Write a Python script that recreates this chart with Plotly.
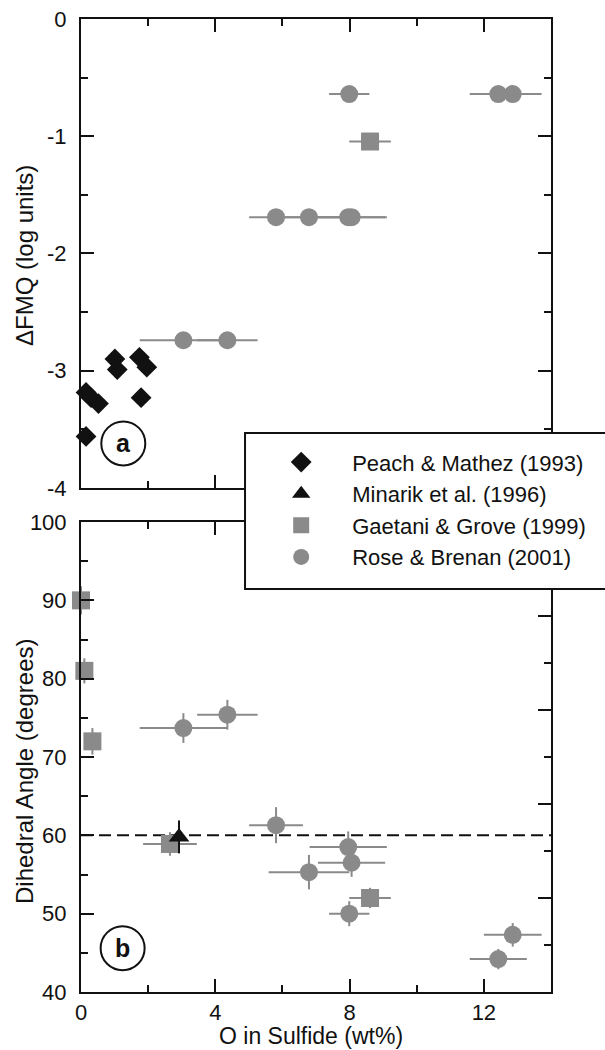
import plotly.graph_objects as go

# ---- Rose & Brenan (2001): samples with both fO2 and dihedral angle ----
rb_o = [3.05, 4.36, 5.81, 7.96, 8.06, 6.79, 7.99, 12.86, 12.43]
rb_o_err = [1.3, 0.9, 0.8, 1.15, 1.0, 1.2, 0.6, 0.86, 0.85]
rb_fmq = [-2.74, -2.74, -1.69, -1.69, -1.69, -1.69, -0.64, -0.64, -0.64]
rb_angle = [73.7, 75.4, 61.3, 58.5, 56.5, 55.3, 50.0, 47.3, 44.2]
rb_angle_err = [1.9, 1.9, 2.3, 2.0, 1.8, 2.2, 1.6, 1.5, 1.3]

# ---- Gaetani & Grove (1999) ----
gg_o = [0.0, 0.1, 0.34, 2.65, 8.61]
gg_o_err = [0.0, 0.0, 0.0, 0.8, 0.62]
gg_fmq = [None, None, None, None, -1.045]
gg_angle = [90.0, 81.0, 72.0, 58.9, 52.0]
gg_angle_err = [1.8, 1.6, 1.7, 1.5, 1.3]

# ---- Peach & Mathez (1993): fO2 only ----
pm_o = [1.01, 1.08, 1.74, 1.96, 0.15, 0.30, 0.52, 1.79, 0.15]
pm_fmq = [-2.90, -2.99, -2.886, -2.97, -3.185, -3.23, -3.28, -3.23, -3.56]

# ---- Minarik et al. (1996): dihedral angle only ----
mi_o = [2.92]
mi_angle = [59.8]
mi_angle_err = [2.1]

# axis ticks
fmq_ticks = [0, -1, -2, -3, -4]
fmq_labels = ["0", "-1", "-2", "-3", "-4"]
angle_ticks = [40, 50, 60, 70, 80, 90, 100]
o_ticks = [0, 4, 8, 12]

GRAY = "#8a8a8a"
BLACK = "#111111"
FONT = "Liberation Sans, Arial, Helvetica, sans-serif"

fig = go.Figure()

# ---------- panel a: ΔFMQ ----------
gg_top = [(o, e, f) for o, e, f in zip(gg_o, gg_o_err, gg_fmq) if f is not None]

fig.add_trace(go.Scatter(
    x=rb_o, y=rb_fmq, mode="markers", xaxis="x", yaxis="y",
    error_x=dict(type="data", array=rb_o_err, color=GRAY, thickness=2, width=0),
    marker=dict(symbol="circle", size=18, color=GRAY),
    name="Rose & Brenan (2001)", legendgroup="rb", legendrank=4,
    showlegend=True, cliponaxis=False))

fig.add_trace(go.Scatter(
    x=[g[0] for g in gg_top], y=[g[2] for g in gg_top], mode="markers",
    xaxis="x", yaxis="y",
    error_x=dict(type="data", array=[g[1] for g in gg_top], color=GRAY,
                 thickness=2, width=0),
    marker=dict(symbol="square", size=18, color=GRAY),
    name="Gaetani & Grove (1999)", legendgroup="gg", legendrank=3,
    showlegend=True, cliponaxis=False))

fig.add_trace(go.Scatter(
    x=pm_o, y=pm_fmq, mode="markers", xaxis="x", yaxis="y",
    marker=dict(symbol="diamond", size=16, color=BLACK),
    name="Peach & Mathez (1993)", legendgroup="pm", legendrank=1,
    showlegend=True, cliponaxis=False))

# ---------- panel b: dihedral angle ----------
fig.add_trace(go.Scatter(
    x=rb_o, y=rb_angle, mode="markers", xaxis="x2", yaxis="y2",
    error_x=dict(type="data", array=rb_o_err, color=GRAY, thickness=2, width=0),
    error_y=dict(type="data", array=rb_angle_err, color=GRAY, thickness=2, width=0),
    marker=dict(symbol="circle", size=18, color=GRAY),
    name="Rose & Brenan (2001)", legendgroup="rb", showlegend=False,
    cliponaxis=False))

fig.add_trace(go.Scatter(
    x=gg_o, y=gg_angle, mode="markers", xaxis="x2", yaxis="y2",
    error_x=dict(type="data", array=gg_o_err, color=GRAY, thickness=2, width=0),
    error_y=dict(type="data", array=gg_angle_err, color=GRAY, thickness=2, width=0),
    marker=dict(symbol="square", size=18, color=GRAY),
    name="Gaetani & Grove (1999)", legendgroup="gg", showlegend=False,
    cliponaxis=False))

fig.add_trace(go.Scatter(
    x=mi_o, y=mi_angle, mode="markers", xaxis="x2", yaxis="y2",
    error_y=dict(type="data", array=mi_angle_err, color=BLACK, thickness=2, width=0),
    marker=dict(symbol="triangle-up", size=18, color=BLACK),
    name="Minarik et al. (1996)", legendgroup="mi", legendrank=2,
    showlegend=True, cliponaxis=False))

axis_common = dict(
    showline=True, linecolor=BLACK, linewidth=2, ticks="inside",
    tickcolor=BLACK, tickwidth=2, showgrid=False, zeroline=False,
    automargin=False,
    tickfont=dict(family=FONT, size=22, color=BLACK),
)

fig.update_layout(
    width=605, height=1050,
    margin=dict(l=81, r=54, t=19, b=58),
    paper_bgcolor="white", plot_bgcolor="white",
    font=dict(family=FONT, color=BLACK),
    xaxis=dict(axis_common, domain=[0, 1], anchor="y", range=[0, 14],
               tickmode="linear", tick0=0, dtick=4, ticklen=13,
               showticklabels=False, mirror="ticks",
               minor=dict(tickmode="linear", tick0=0, dtick=2, ticklen=7,
                          ticks="inside", tickcolor=BLACK, tickwidth=2)),
    yaxis=dict(axis_common, domain=[0.518, 1], anchor="x", range=[-4, 0],
               tickmode="array", tickvals=fmq_ticks, ticktext=fmq_labels,
               ticklen=13, mirror="ticks", ticklabelstandoff=8,
               minor=dict(tickmode="linear", tick0=0, dtick=0.5, ticklen=7,
                          ticks="inside", tickcolor=BLACK, tickwidth=2)),
    xaxis2=dict(axis_common, domain=[0, 1], anchor="y2", range=[0, 14],
                tickmode="array", tickvals=o_ticks, ticklen=13,
                mirror="ticks",
                minor=dict(tickmode="linear", tick0=0, dtick=2, ticklen=7,
                           ticks="inside", tickcolor=BLACK, tickwidth=2)),
    yaxis2=dict(axis_common, domain=[0, 0.483], anchor="x2", range=[40, 100],
                tickmode="array", tickvals=angle_ticks, ticklen=13,
                ticklabelstandoff=8,
                minor=dict(tickmode="linear", tick0=40, dtick=5, ticklen=7,
                           ticks="inside", tickcolor=BLACK, tickwidth=2)),
    # right-hand frame of panel b with its own tick spacing
    yaxis3=dict(axis_common, overlaying="y2", side="right", anchor="x2",
                range=[40, 100], tickmode="linear", tick0=52, dtick=12,
                ticklen=13, showticklabels=False,
                minor=dict(tickmode="linear", tick0=40, dtick=6, ticklen=7,
                           ticks="inside", tickcolor=BLACK, tickwidth=2)),
    legend=dict(
        x=0.36, y=0.566, xanchor="left", yanchor="top",
        bgcolor="rgba(0,0,0,0)", borderwidth=0,
        font=dict(family=FONT, size=22, color=BLACK),
        itemwidth=92, traceorder="grouped", tracegroupgap=0,
    ),
    showlegend=True,
)

# empty trace so the right-hand axis of panel b is drawn
fig.add_trace(go.Scatter(x=[None], y=[None], xaxis="x2", yaxis="y3",
                         showlegend=False, hoverinfo="skip"))

shapes = [
    # reference level in panel b
    dict(type="line", xref="x2 domain", yref="y2", x0=0, x1=1, y0=60, y1=60,
         line=dict(color=BLACK, width=2, dash="12px,6px"), layer="below"),
    # legend frame (runs off the right edge)
    dict(type="rect", xref="paper", yref="paper", x0=0.349, x1=1.3,
         y0=0.4142, y1=0.5745, fillcolor="white",
         line=dict(color=BLACK, width=2), layer="above"),
    # panel tags
    dict(type="circle", xref="x", yref="y", xsizemode="pixel", ysizemode="pixel",
         xanchor=1.26, yanchor=-3.62, x0=-22, x1=22, y0=-22, y1=22,
         line=dict(color=BLACK, width=2)),
    dict(type="circle", xref="x2", yref="y2", xsizemode="pixel", ysizemode="pixel",
         xanchor=1.24, yanchor=45.6, x0=-22, x1=22, y0=-22, y1=22,
         line=dict(color=BLACK, width=2)),
]
fig.update_layout(shapes=shapes)

# panel tags
fig.add_annotation(x=1.26, y=-3.62, xref="x", yref="y", text="<b>a</b>",
                   showarrow=False, font=dict(family=FONT, size=25, color=BLACK))
fig.add_annotation(x=1.24, y=45.6, xref="x2", yref="y2", text="<b>b</b>",
                   showarrow=False, font=dict(family=FONT, size=25, color=BLACK))

# axis titles
title_font = dict(family=FONT, size=24, color=BLACK)
fig.add_annotation(x=-0.1213, y=0.7574, xref="paper", yref="paper",
                   text="ΔFMQ (log units)", textangle=-90, showarrow=False,
                   xanchor="center", yanchor="middle", font=title_font)
fig.add_annotation(x=-0.1213, y=0.2271, xref="paper", yref="paper",
                   text="Dihedral Angle (degrees)", textangle=-90, showarrow=False,
                   xanchor="center", yanchor="middle", font=title_font)
fig.add_annotation(x=0.4904, y=-0.0452, xref="paper", yref="paper",
                   text="O in Sulfide (wt%)", showarrow=False,
                   xanchor="center", yanchor="middle",
                   font=dict(family=FONT, size=23, color=BLACK))

fig.write_html("out.html")
